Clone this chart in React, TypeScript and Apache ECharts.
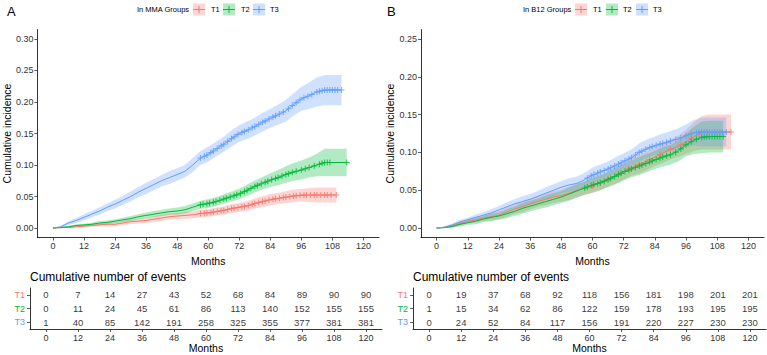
import React, { useEffect, useRef } from "react";
import * as echarts from "echarts";

const FONT = '"Liberation Sans", Arial, Helvetica, sans-serif';
const COLORS = ["#F8766D", "#00BA38", "#619CFF"];
const GROUPS = ["T1", "T2", "T3"];

const X_TICKS = [0, 12, 24, 36, 48, 60, 72, 84, 96, 108, 120];
const Y_TICKS_A = [0, 0.05, 0.1, 0.15, 0.2, 0.25, 0.3];
const Y_TICKS_B = [0, 0.05, 0.1, 0.15, 0.2, 0.25];

// knot months of the curves
const MONTHS = [0, 3, 6, 9, 12, 15, 18, 21, 24, 27, 30, 33, 36, 39, 42, 45, 48, 51, 54, 57, 60, 63, 66, 69, 72, 75, 78, 81, 84, 87, 90, 93, 96, 99, 102, 105, 108];

// ---------- Panel A : MMA groups ----------
const mmaT1 = [0, 0.0005, 0.001, 0.002, 0.003, 0.004, 0.005, 0.006, 0.006, 0.008, 0.010, 0.011, 0.012, 0.014, 0.016, 0.018, 0.019, 0.020, 0.021, 0.023, 0.024, 0.026, 0.028, 0.031, 0.033, 0.035, 0.039, 0.042, 0.045, 0.047, 0.049, 0.051, 0.052, 0.0525, 0.0525, 0.0525, 0.0525];
const mmaT1Lo = [0, 0, 0, 0.0005, 0.001, 0.002, 0.0025, 0.003, 0.003, 0.0045, 0.0065, 0.007, 0.008, 0.0095, 0.011, 0.013, 0.014, 0.0145, 0.0155, 0.017, 0.018, 0.0195, 0.0215, 0.024, 0.026, 0.0275, 0.031, 0.0335, 0.036, 0.038, 0.0395, 0.041, 0.042, 0.0415, 0.0405, 0.0405, 0.0405];
const mmaT1Hi = [0, 0.001, 0.002, 0.0035, 0.005, 0.006, 0.0075, 0.009, 0.009, 0.0115, 0.0135, 0.015, 0.016, 0.0185, 0.021, 0.023, 0.024, 0.0255, 0.0265, 0.029, 0.030, 0.0325, 0.0345, 0.038, 0.040, 0.0425, 0.047, 0.0505, 0.054, 0.056, 0.0585, 0.061, 0.062, 0.0635, 0.0645, 0.0645, 0.0645];

const mmaT2 = [0, 0.001, 0.002, 0.004, 0.005, 0.006, 0.008, 0.009, 0.011, 0.013, 0.015, 0.018, 0.020, 0.022, 0.024, 0.026, 0.027, 0.029, 0.033, 0.037, 0.039, 0.042, 0.046, 0.050, 0.054, 0.060, 0.066, 0.071, 0.076, 0.080, 0.085, 0.089, 0.092, 0.096, 0.100, 0.104, 0.104];
const mmaT2Lo = [0, 0, 0.0005, 0.002, 0.003, 0.0035, 0.005, 0.006, 0.008, 0.0095, 0.011, 0.014, 0.0155, 0.017, 0.019, 0.021, 0.0215, 0.023, 0.027, 0.0305, 0.032, 0.035, 0.0385, 0.042, 0.0455, 0.051, 0.0565, 0.061, 0.065, 0.068, 0.072, 0.075, 0.077, 0.080, 0.082, 0.082, 0.082];
const mmaT2Hi = [0, 0.002, 0.0035, 0.006, 0.007, 0.0085, 0.011, 0.012, 0.014, 0.0165, 0.019, 0.022, 0.0245, 0.027, 0.029, 0.031, 0.0325, 0.035, 0.039, 0.0435, 0.046, 0.049, 0.0535, 0.058, 0.0625, 0.069, 0.0755, 0.081, 0.087, 0.092, 0.098, 0.103, 0.107, 0.112, 0.118, 0.126, 0.126];

const mmaT3 = [0, 0.002, 0.008, 0.012, 0.017, 0.022, 0.027, 0.033, 0.038, 0.044, 0.050, 0.057, 0.063, 0.069, 0.075, 0.080, 0.085, 0.090, 0.100, 0.111, 0.117, 0.125, 0.133, 0.142, 0.150, 0.155, 0.161, 0.168, 0.174, 0.180, 0.186, 0.196, 0.205, 0.210, 0.216, 0.219, 0.219];
const mmaT3Lo = [0, 0.001, 0.005, 0.008, 0.012, 0.017, 0.021, 0.027, 0.031, 0.037, 0.042, 0.049, 0.054, 0.060, 0.066, 0.070, 0.075, 0.080, 0.089, 0.100, 0.105, 0.113, 0.121, 0.129, 0.137, 0.141, 0.147, 0.153, 0.159, 0.164, 0.169, 0.178, 0.186, 0.189, 0.193, 0.195, 0.195];
const mmaT3Hi = [0, 0.003, 0.011, 0.016, 0.022, 0.027, 0.033, 0.039, 0.045, 0.051, 0.058, 0.065, 0.072, 0.078, 0.084, 0.090, 0.095, 0.100, 0.111, 0.122, 0.129, 0.137, 0.145, 0.155, 0.163, 0.169, 0.175, 0.183, 0.189, 0.196, 0.203, 0.214, 0.224, 0.231, 0.239, 0.243, 0.243];

const mmaEnd = [109.5, 113.5, 111.5];

const mmaCensorT1 = [57, 58.5, 59.5, 61, 62, 63.5, 65, 66, 67.5, 69, 70, 71.5, 73, 74, 75.5, 77, 78, 79.5, 81, 82, 83.5, 85, 86, 87.5, 89, 90, 91.5, 93, 94, 95.5, 97, 98, 99.5, 101, 102, 103.5, 105, 106, 107.5, 109.5];
const mmaCensorT2 = [57, 58, 59.5, 60.5, 62, 63, 64.5, 66, 67, 68.5, 70, 71, 72.5, 74, 75, 76.5, 78, 79, 80.5, 82, 83, 84.5, 86, 87, 88.5, 90, 91, 92.5, 94, 96, 97.5, 99, 101, 103, 104, 105, 106, 107, 113.5];
const mmaCensorT3 = [57, 58.5, 59.5, 61, 62, 63.5, 65, 66, 67.5, 69, 70, 71.5, 73, 74, 75.5, 77, 78, 79.5, 81, 82, 83.5, 85, 86, 87.5, 89, 91, 92.5, 94, 95.5, 97, 98.5, 100, 102, 103, 104, 105, 106, 107, 108, 109, 110, 111.5];

// ---------- Panel B : B12 groups ----------
const b12T1 = [0, 0.001, 0.003, 0.006, 0.009, 0.011, 0.013, 0.015, 0.017, 0.021, 0.025, 0.028, 0.032, 0.035, 0.038, 0.041, 0.043, 0.046, 0.050, 0.053, 0.056, 0.060, 0.065, 0.070, 0.075, 0.080, 0.084, 0.089, 0.094, 0.099, 0.104, 0.108, 0.114, 0.121, 0.126, 0.127, 0.127];
const b12T1Lo = [0, 0, 0.001, 0.003, 0.006, 0.007, 0.009, 0.010, 0.012, 0.015, 0.019, 0.021, 0.025, 0.028, 0.030, 0.033, 0.035, 0.037, 0.041, 0.044, 0.046, 0.050, 0.055, 0.059, 0.064, 0.069, 0.072, 0.077, 0.082, 0.086, 0.091, 0.094, 0.098, 0.102, 0.104, 0.104, 0.104];
const b12T1Hi = [0, 0.002, 0.005, 0.009, 0.012, 0.015, 0.017, 0.020, 0.022, 0.027, 0.031, 0.035, 0.039, 0.042, 0.046, 0.049, 0.051, 0.055, 0.059, 0.062, 0.066, 0.070, 0.075, 0.081, 0.086, 0.091, 0.096, 0.101, 0.106, 0.112, 0.117, 0.122, 0.130, 0.140, 0.148, 0.150, 0.150];

const b12T2 = [0, 0.0005, 0.002, 0.005, 0.007, 0.009, 0.012, 0.014, 0.016, 0.019, 0.022, 0.026, 0.029, 0.032, 0.035, 0.038, 0.041, 0.045, 0.049, 0.053, 0.057, 0.060, 0.064, 0.069, 0.074, 0.078, 0.082, 0.086, 0.090, 0.094, 0.097, 0.102, 0.110, 0.116, 0.120, 0.121, 0.121];
const b12T2Lo = [0, 0, 0.0005, 0.002, 0.004, 0.005, 0.008, 0.009, 0.011, 0.013, 0.016, 0.019, 0.022, 0.025, 0.027, 0.030, 0.033, 0.036, 0.040, 0.044, 0.047, 0.050, 0.054, 0.058, 0.063, 0.067, 0.070, 0.074, 0.078, 0.081, 0.084, 0.088, 0.095, 0.098, 0.099, 0.100, 0.100];
const b12T2Hi = [0, 0.0015, 0.0035, 0.008, 0.010, 0.013, 0.016, 0.019, 0.021, 0.025, 0.028, 0.033, 0.036, 0.039, 0.043, 0.046, 0.049, 0.054, 0.058, 0.062, 0.067, 0.070, 0.074, 0.080, 0.085, 0.089, 0.094, 0.098, 0.102, 0.107, 0.110, 0.116, 0.125, 0.134, 0.141, 0.142, 0.142];

const b12T3 = [0, 0.001, 0.004, 0.008, 0.011, 0.014, 0.017, 0.020, 0.024, 0.028, 0.032, 0.035, 0.038, 0.042, 0.046, 0.050, 0.054, 0.057, 0.059, 0.064, 0.070, 0.074, 0.078, 0.083, 0.088, 0.093, 0.100, 0.105, 0.109, 0.112, 0.115, 0.118, 0.122, 0.126, 0.127, 0.127, 0.127];
const b12T3Lo = [0, 0, 0.002, 0.005, 0.008, 0.010, 0.013, 0.015, 0.019, 0.022, 0.026, 0.028, 0.031, 0.035, 0.038, 0.042, 0.046, 0.048, 0.050, 0.055, 0.060, 0.064, 0.068, 0.072, 0.077, 0.082, 0.088, 0.093, 0.097, 0.099, 0.102, 0.104, 0.107, 0.109, 0.108, 0.108, 0.108];
const b12T3Hi = [0, 0.002, 0.006, 0.011, 0.014, 0.018, 0.021, 0.025, 0.029, 0.034, 0.038, 0.042, 0.045, 0.049, 0.054, 0.058, 0.062, 0.066, 0.068, 0.073, 0.080, 0.084, 0.088, 0.094, 0.099, 0.104, 0.112, 0.117, 0.121, 0.125, 0.128, 0.132, 0.137, 0.143, 0.146, 0.146, 0.146];

const b12End = [113.3, 110.3, 111.5];

const b12CensorT1 = [60, 63, 66, 70, 74, 78, 82, 86, 90, 94, 98, 101, 104, 107, 113.3];
const b12CensorT2 = [57, 58, 59.5, 60.5, 62, 63, 64.5, 66, 67, 68.5, 70, 71, 72.5, 74, 75, 76.5, 78, 79, 80.5, 82, 83, 84.5, 86, 87, 88.5, 90, 92, 94, 96, 98, 100, 102, 103, 104, 105, 106, 107, 108, 109, 110.3];
const b12CensorT3 = [58, 59.5, 60.5, 62, 63, 64.5, 66, 67, 68.5, 70, 71, 72.5, 74, 75, 76.5, 78, 79, 80.5, 82, 83, 84.5, 86, 87, 88.5, 90, 92, 94, 96, 98, 100, 101, 102, 103, 104, 105, 106, 107, 108, 109, 110, 111.5];

// ---------- Risk tables ----------
const TABLE_MONTHS = [0, 12, 24, 36, 48, 60, 72, 84, 96, 108, 120];
const mmaEventsT1 = [0, 7, 14, 27, 43, 52, 68, 84, 89, 90, 90];
const mmaEventsT2 = [0, 11, 24, 45, 61, 86, 113, 140, 152, 155, 155];
const mmaEventsT3 = [1, 40, 85, 142, 191, 258, 325, 355, 377, 381, 381];
const b12EventsT1 = [0, 19, 37, 68, 92, 118, 156, 181, 198, 201, 201];
const b12EventsT2 = [1, 15, 34, 62, 86, 122, 159, 178, 193, 195, 195];
const b12EventsT3 = [0, 24, 52, 84, 117, 156, 191, 220, 227, 230, 230];

const PLUS = "path://M0,4.1H10V5.9H0ZM4.1,0H5.9V10H4.1Z";

function rgba(hex: string, a: number) {
  const n = parseInt(hex.slice(1), 16);
  return `rgba(${(n >> 16) & 255},${(n >> 8) & 255},${n & 255},${a})`;
}

// position on the drawn curve (linear between knots, flat after the last knot)
function valueAt(vals: number[], t: number) {
  const n = MONTHS.length;
  if (t >= MONTHS[n - 1]) return vals[n - 1];
  for (let i = 0; i < n - 1; i++) {
    if (t >= MONTHS[i] && t <= MONTHS[i + 1]) {
      const f = (t - MONTHS[i]) / (MONTHS[i + 1] - MONTHS[i]);
      return vals[i] + f * (vals[i + 1] - vals[i]);
    }
  }
  return vals[0];
}

function ribbon(axis: number, lo: number[], hi: number[], end: number, color: string) {
  return {
    type: "custom",
    xAxisIndex: axis,
    yAxisIndex: axis,
    z: 1,
    silent: true,
    data: [[0, 0]],
    encode: { x: 0, y: 1 },
    renderItem: (params: any, api: any) => {
      const upper: number[][] = [];
      const lower: number[][] = [];
      for (let i = 0; i < MONTHS.length; i++) {
        upper.push(api.coord([MONTHS[i], hi[i]]));
        lower.push(api.coord([MONTHS[i], lo[i]]));
      }
      upper.push(api.coord([end, hi[hi.length - 1]]));
      lower.push(api.coord([end, lo[lo.length - 1]]));
      return {
        type: "polygon",
        shape: { points: upper.concat(lower.reverse()) },
        style: { fill: rgba(color, 0.3) },
      };
    },
  };
}

function curve(axis: number, vals: number[], end: number, color: string) {
  const data = MONTHS.map((m, i) => [m, vals[i]]);
  data.push([end, vals[vals.length - 1]]);
  return {
    type: "line",
    xAxisIndex: axis,
    yAxisIndex: axis,
    z: 2,
    silent: true,
    showSymbol: false,
    data,
    lineStyle: { color, width: 1 },
    itemStyle: { color },
  };
}

function marks(axis: number, vals: number[], times: number[], color: string) {
  return {
    type: "scatter",
    xAxisIndex: axis,
    yAxisIndex: axis,
    z: 3,
    silent: true,
    symbol: PLUS,
    symbolSize: 6,
    data: times.map((t) => [t, valueAt(vals, t)]),
    itemStyle: { color },
  };
}

function table(axis: number, rows: number[][]) {
  const data: any[] = [];
  rows.forEach((r, gi) => r.forEach((v, i) => data.push([TABLE_MONTHS[i], gi, v])));
  return {
    type: "scatter",
    xAxisIndex: axis,
    yAxisIndex: axis,
    silent: true,
    symbolSize: 1,
    itemStyle: { color: "rgba(0,0,0,0)" },
    data,
    label: {
      show: true,
      position: "inside",
      formatter: (p: any) => String(p.value[2]),
      color: "#000",
      fontSize: 9.5,
      fontFamily: FONT,
    },
  };
}

const axisLine = { show: true, onZero: false, lineStyle: { color: "#000", width: 0.8 } };
const tickStyle = { color: "#333", width: 0.8 };

function xAxisDef(grid: number, nameGap: number) {
  return {
    type: "value",
    gridIndex: grid,
    min: -6,
    max: 126,
    axisLine,
    axisTick: { show: true, length: 3, lineStyle: tickStyle, customValues: X_TICKS },
    axisLabel: { customValues: X_TICKS, fontSize: 9, color: "#333", margin: 4, fontFamily: FONT },
    splitLine: { show: false },
    name: "Months",
    nameLocation: "middle",
    nameGap,
    nameTextStyle: { fontSize: 10.5, color: "#000", fontFamily: FONT },
  };
}

function yAxisDef(grid: number, max: number, ticks: number[]) {
  const pad = max * 0.05;
  return {
    type: "value",
    gridIndex: grid,
    min: -pad,
    max: max + pad,
    axisLine,
    axisTick: { show: true, length: 3, lineStyle: tickStyle, customValues: ticks },
    axisLabel: {
      customValues: ticks,
      fontSize: 9,
      color: "#333",
      margin: 4,
      fontFamily: FONT,
      formatter: (v: number) => v.toFixed(2),
    },
    splitLine: { show: false },
    name: "Cumulative incidence",
    nameLocation: "middle",
    nameGap: 23,
    nameTextStyle: { fontSize: 10.5, color: "#000", fontFamily: FONT },
  };
}

function tableYAxis(grid: number) {
  return {
    type: "category",
    gridIndex: grid,
    data: GROUPS,
    inverse: true,
    axisLine,
    axisTick: { show: true, length: 3, alignWithLabel: true, lineStyle: tickStyle },
    axisLabel: {
      margin: 5,
      fontSize: 9,
      fontFamily: FONT,
      formatter: (v: string) => `{${v}|${v}}`,
      rich: {
        T1: { color: COLORS[0], fontSize: 9, fontFamily: FONT },
        T2: { color: COLORS[1], fontSize: 9, fontFamily: FONT },
        T3: { color: COLORS[2], fontSize: 9, fontFamily: FONT },
      },
    },
  };
}

function legend(x0: number, title: string, keyXs: number[], labelXs: number[]) {
  const els: any[] = [
    {
      type: "text",
      x: x0,
      y: 9.5,
      style: { text: title, fill: "#000", fontSize: 7.5, fontFamily: FONT, verticalAlign: "middle", align: "left" },
    },
  ];
  GROUPS.forEach((g, i) => {
    const kx = keyXs[i];
    els.push({ type: "rect", shape: { x: kx, y: 3.5, width: 12, height: 12 }, style: { fill: rgba(COLORS[i], 0.3) } });
    els.push({ type: "line", shape: { x1: kx, y1: 9.5, x2: kx + 12, y2: 9.5 }, style: { stroke: COLORS[i], lineWidth: 1 } });
    els.push({ type: "line", shape: { x1: kx + 6, y1: 6, x2: kx + 6, y2: 13 }, style: { stroke: COLORS[i], lineWidth: 1 } });
    els.push({
      type: "text",
      x: labelXs[i],
      y: 9.5,
      style: { text: g, fill: "#000", fontSize: 7.5, fontFamily: FONT, verticalAlign: "middle", align: "left" },
    });
  });
  return els;
}

export default function App() {
  const ref = useRef<HTMLDivElement>(null);
  useEffect(() => {
    if (!ref.current) return;
    const chart = echarts.init(ref.current, undefined, { renderer: "svg" });
    const option: any = {
      animation: false,
      backgroundColor: "#fff",
      textStyle: { fontFamily: FONT },
      grid: [
        { left: 36, top: 29.5, width: 343, height: 208 },
        { left: 421, top: 29.5, width: 343, height: 208 },
        { left: 30, top: 288, width: 352, height: 41 },
        { left: 413, top: 288, width: 353, height: 41 },
      ],
      xAxis: [xAxisDef(0, 10), xAxisDef(1, 10), xAxisDef(2, 11), xAxisDef(3, 11)],
      yAxis: [yAxisDef(0, 0.3, Y_TICKS_A), yAxisDef(1, 0.25, Y_TICKS_B), tableYAxis(2), tableYAxis(3)],
      series: [
        ribbon(0, mmaT1Lo, mmaT1Hi, mmaEnd[0], COLORS[0]),
        ribbon(0, mmaT2Lo, mmaT2Hi, mmaEnd[1], COLORS[1]),
        ribbon(0, mmaT3Lo, mmaT3Hi, mmaEnd[2], COLORS[2]),
        curve(0, mmaT1, mmaEnd[0], COLORS[0]),
        curve(0, mmaT2, mmaEnd[1], COLORS[1]),
        curve(0, mmaT3, mmaEnd[2], COLORS[2]),
        marks(0, mmaT1, mmaCensorT1, COLORS[0]),
        marks(0, mmaT2, mmaCensorT2, COLORS[1]),
        marks(0, mmaT3, mmaCensorT3, COLORS[2]),
        ribbon(1, b12T1Lo, b12T1Hi, b12End[0], COLORS[0]),
        ribbon(1, b12T2Lo, b12T2Hi, b12End[1], COLORS[1]),
        ribbon(1, b12T3Lo, b12T3Hi, b12End[2], COLORS[2]),
        curve(1, b12T1, b12End[0], COLORS[0]),
        curve(1, b12T2, b12End[1], COLORS[1]),
        curve(1, b12T3, b12End[2], COLORS[2]),
        marks(1, b12T1, b12CensorT1, COLORS[0]),
        marks(1, b12T2, b12CensorT2, COLORS[1]),
        marks(1, b12T3, b12CensorT3, COLORS[2]),
        table(2, [mmaEventsT1, mmaEventsT2, mmaEventsT3]),
        table(3, [b12EventsT1, b12EventsT2, b12EventsT3]),
      ],
      graphic: [
        { type: "text", x: 7, y: 11, style: { text: "A", fill: "#000", fontSize: 13, fontFamily: FONT, verticalAlign: "middle" } },
        { type: "text", x: 387, y: 11, style: { text: "B", fill: "#000", fontSize: 13, fontFamily: FONT, verticalAlign: "middle" } },
        { type: "text", x: 30, y: 277, style: { text: "Cumulative number of events", fill: "#000", fontSize: 12, fontFamily: FONT, verticalAlign: "middle" } },
        { type: "text", x: 413, y: 277, style: { text: "Cumulative number of events", fill: "#000", fontSize: 12, fontFamily: FONT, verticalAlign: "middle" } },
        ...legend(137, "In MMA Groups", [193, 223, 253], [211, 241, 270]),
        ...legend(523, "In B12 Groups", [575, 606, 636], [593, 623, 653]),
      ],
    };
    chart.setOption(option);
    return () => chart.dispose();
  }, []);
  return <div ref={ref} style={{ position: "absolute", left: 0, top: 0, width: 767, height: 355 }} />;
}
